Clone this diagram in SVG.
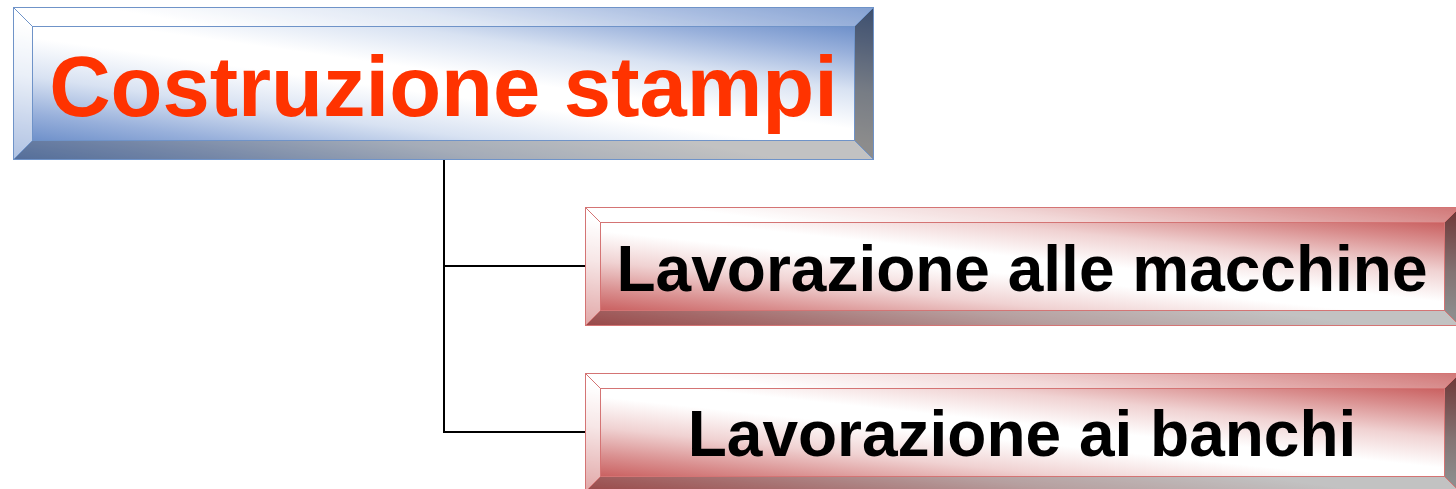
<svg xmlns="http://www.w3.org/2000/svg" width="1456" height="489" viewBox="0 0 1456 489">
  <defs>
    <!-- reflected diagonal fills: coloured at bottom-left and top-right, white through the middle -->
    <linearGradient id="blueFill" x1="0" y1="1" x2="1" y2="0">
      <stop offset="0" stop-color="#6e90ca"/>
      <stop offset="0.12" stop-color="#98b0db"/>
      <stop offset="0.28" stop-color="#d8e2f2"/>
      <stop offset="0.45" stop-color="#ffffff"/>
      <stop offset="0.55" stop-color="#ffffff"/>
      <stop offset="0.72" stop-color="#d8e2f2"/>
      <stop offset="0.88" stop-color="#98b0db"/>
      <stop offset="1" stop-color="#6e90ca"/>
    </linearGradient>
    <linearGradient id="redFill" x1="0" y1="1" x2="1" y2="0">
      <stop offset="0" stop-color="#c95f5f"/>
      <stop offset="0.12" stop-color="#d98e8e"/>
      <stop offset="0.28" stop-color="#f0d2d2"/>
      <stop offset="0.45" stop-color="#ffffff"/>
      <stop offset="0.55" stop-color="#ffffff"/>
      <stop offset="0.72" stop-color="#f0d2d2"/>
      <stop offset="0.88" stop-color="#d98e8e"/>
      <stop offset="1" stop-color="#c95f5f"/>
    </linearGradient>
  </defs>
  <style>
    .bev-top { fill: #ffffff; fill-opacity: 0.15; }
    .bev-left { fill: #ffffff; fill-opacity: 0.45; }
    .bev-bottom { fill: #000000; fill-opacity: 0.24; }
    .bev-right { fill: #000000; fill-opacity: 0.45; }
    .edge-blue { fill: none; stroke: #6f93c8; stroke-width: 1; }
    .edge-red { fill: none; stroke: #d47474; stroke-width: 1; }
    .label { font-family: "Liberation Sans", Arial, sans-serif; font-weight: bold; text-anchor: middle; }
    .link { fill: none; stroke: #000000; stroke-width: 2; }
  </style>

  <!-- connectors -->
  <g id="connectors">
    <path class="link" d="M444 160 V432 H585"/>
    <path class="link" d="M444 266 H585"/>
  </g>

  <!-- root node -->
  <g id="node-costruzione">
    <rect x="13" y="7" width="861" height="153" fill="url(#blueFill)"/>
    <polygon class="bev-top" points="13,7 874,7 855,26 32,26"/>
    <polygon class="bev-left" points="13,7 32,26 32,141 13,160"/>
    <polygon class="bev-bottom" points="13,160 32,141 855,141 874,160"/>
    <polygon class="bev-right" points="874,7 874,160 855,141 855,26"/>
    <rect x="32" y="26" width="823" height="115" fill="url(#blueFill)"/>
    <rect class="edge-blue" x="13.5" y="7.5" width="860" height="152"/>
    <rect class="edge-blue" x="32.5" y="26.5" width="822" height="114"/>
    <path class="edge-blue" d="M13.5 7.5 L32.5 26.5 M873.5 7.5 L854.5 26.5 M13.5 159.5 L32.5 140.5 M873.5 159.5 L854.5 140.5"/>
    <text class="label" x="443.5" y="116" font-size="85" fill="#ff3300">Costruzione stampi</text>
  </g>

  <!-- first child -->
  <g id="node-macchine">
    <rect x="585" y="207" width="875" height="119" fill="url(#redFill)"/>
    <polygon class="bev-top" points="585,207 1460,207 1445,222 600,222"/>
    <polygon class="bev-left" points="585,207 600,222 600,311 585,326"/>
    <polygon class="bev-bottom" points="585,326 600,311 1445,311 1460,326"/>
    <polygon class="bev-right" points="1460,207 1460,326 1445,311 1445,222"/>
    <rect x="600" y="222" width="845" height="89" fill="url(#redFill)"/>
    <rect class="edge-red" x="585.5" y="207.5" width="874" height="118"/>
    <rect class="edge-red" x="600.5" y="222.5" width="844" height="88"/>
    <path class="edge-red" d="M585.5 207.5 L600.5 222.5 M1459.5 207.5 L1444.5 222.5 M585.5 325.5 L600.5 310.5 M1459.5 325.5 L1444.5 310.5"/>
    <text class="label" x="1022" y="291" font-size="64" fill="#000000">Lavorazione alle macchine</text>
  </g>

  <!-- second child -->
  <g id="node-banchi">
    <rect x="585" y="373" width="875" height="119" fill="url(#redFill)"/>
    <polygon class="bev-top" points="585,373 1460,373 1445,388 600,388"/>
    <polygon class="bev-left" points="585,373 600,388 600,477 585,492"/>
    <polygon class="bev-bottom" points="585,492 600,477 1445,477 1460,492"/>
    <polygon class="bev-right" points="1460,373 1460,492 1445,477 1445,388"/>
    <rect x="600" y="388" width="845" height="89" fill="url(#redFill)"/>
    <rect class="edge-red" x="585.5" y="373.5" width="874" height="118"/>
    <rect class="edge-red" x="600.5" y="388.5" width="844" height="88"/>
    <path class="edge-red" d="M585.5 373.5 L600.5 388.5 M1459.5 373.5 L1444.5 388.5 M585.5 491.5 L600.5 476.5 M1459.5 491.5 L1444.5 476.5"/>
    <text class="label" x="1022" y="456" font-size="64" fill="#000000">Lavorazione ai banchi</text>
  </g>
</svg>
